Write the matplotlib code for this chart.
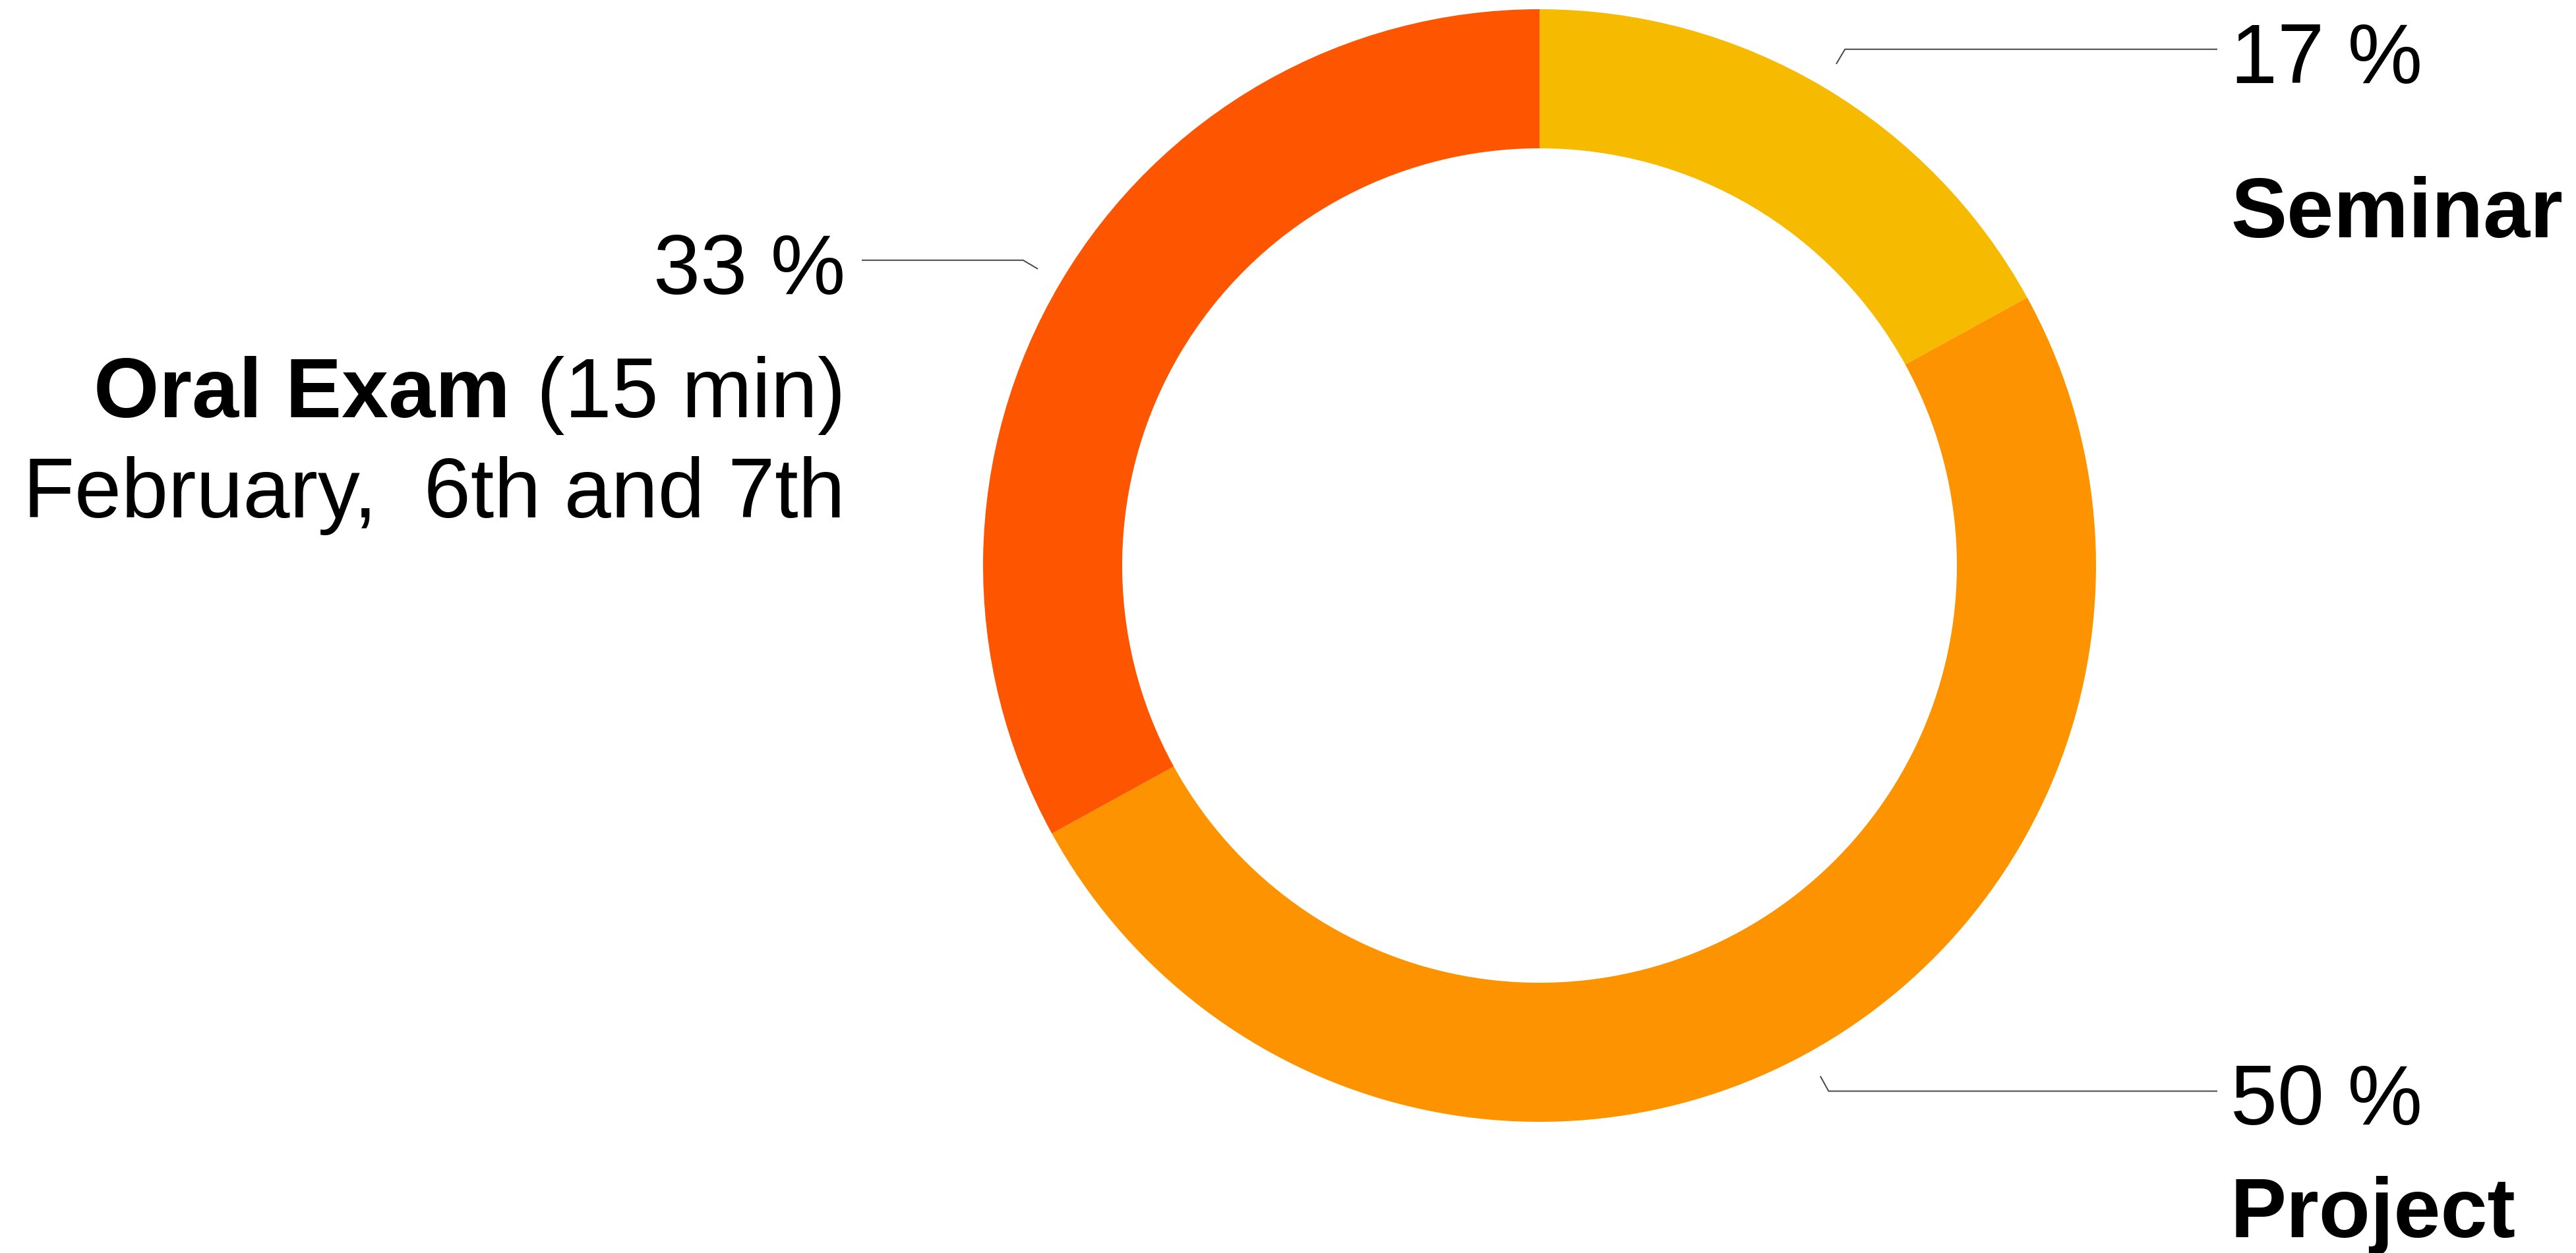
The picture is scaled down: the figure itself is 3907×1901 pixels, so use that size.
import matplotlib.pyplot as plt
import numpy as np

# data
categories = ['Seminar', 'Project', 'Oral Exam']
shares = [17, 50, 33]
pct_labels = ['17 %', '50 %', '33 %']
extra_labels = ['', '', '(15 min)']
sub_labels = ['', '', 'February,  6th and 7th']
colors = ['#F6BB00', '#FE9300', '#FE5500']

# layout (pixels, y measured upward)
W, H = 3907, 1901
DPI = 100
CX, CY = 2335, H - 858
R_OUT = 844
R_IN = 633
FS = 92
NAME_DROP = [285, 222, 238]   # from leader line to name baseline
SUB_DROP = 390

plt.rcParams['font.family'] = ['Liberation Sans', 'DejaVu Sans']

fig = plt.figure(figsize=(W / DPI, H / DPI), dpi=DPI)
ax = fig.add_axes([0, 0, 1, 1])

wedges, _ = ax.pie(shares, colors=colors, startangle=90, counterclock=False,
                   radius=R_OUT, center=(CX, CY),
                   wedgeprops=dict(width=R_OUT - R_IN, linewidth=0))
ax.set_xlim(0, W)
ax.set_ylim(0, H)
ax.set_aspect('auto')
ax.axis('off')

renderer = fig.canvas.get_renderer()

for i, w in enumerate(wedges):
    theta = np.deg2rad((w.theta1 + w.theta2) / 2)
    c, s = np.cos(theta), np.sin(theta)
    x0, y0 = CX + 885 * c, CY + 885 * s
    x1, y1 = CX + 910 * c, CY + 910 * s
    side = 1 if c > 0 else -1
    x2 = CX + side * 1027
    ax.plot([x0, x1, x2], [y0, y1, y1], color='#444444', lw=1.4,
            solid_joinstyle='miter')

    if side > 0:
        tx, ha = x2 + 21, 'left'
    else:
        tx, ha = x2 - 26, 'right'

    ax.text(tx, y1 - 51, pct_labels[i], ha=ha, va='baseline', fontsize=FS)

    ny = y1 - NAME_DROP[i]
    if extra_labels[i]:
        # bold name followed by regular text, right aligned
        t = ax.text(tx, ny, extra_labels[i], ha=ha, va='baseline', fontsize=FS)
        wpx = t.get_window_extent(renderer).width
        ax.text(tx - wpx - 40, ny, categories[i], ha='right', va='baseline',
                fontsize=FS, fontweight='bold')
    else:
        ax.text(tx, ny, categories[i], ha=ha, va='baseline',
                fontsize=FS, fontweight='bold')

    if sub_labels[i]:
        ax.text(tx, y1 - SUB_DROP, sub_labels[i], ha=ha, va='baseline', fontsize=FS)

fig.savefig('out.png', dpi=DPI, facecolor='white')
